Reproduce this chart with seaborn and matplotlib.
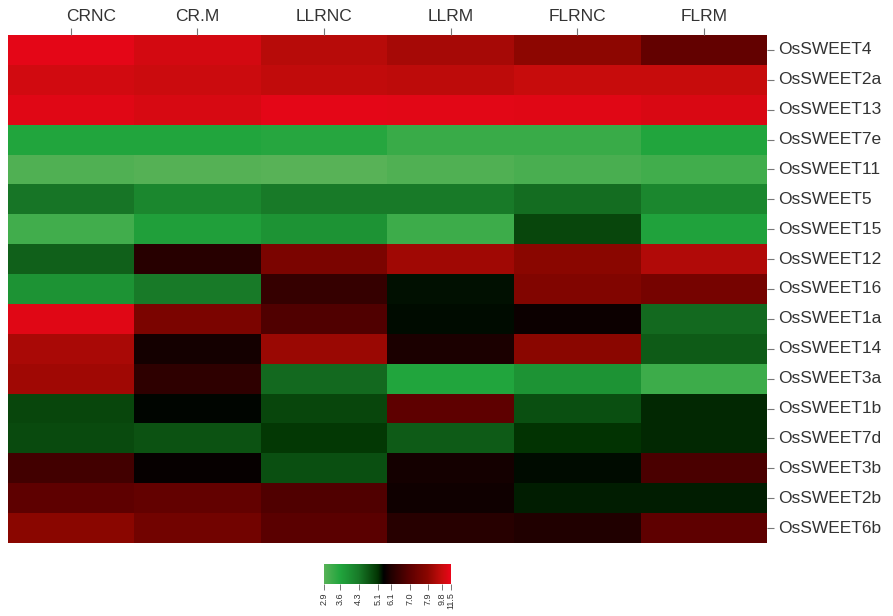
import numpy as np
import pandas as pd
import matplotlib
matplotlib.use("Agg")
import matplotlib.pyplot as plt
import matplotlib.transforms as mtransforms
from matplotlib.colors import LinearSegmentedColormap, FuncNorm
import seaborn as sns

samples = ["CRNC", "CR.M", "LLRNC", "LLRM", "FLRNC", "FLRM"]
genes = ["OsSWEET4", "OsSWEET2a", "OsSWEET13", "OsSWEET7e", "OsSWEET11",
         "OsSWEET5", "OsSWEET15", "OsSWEET12", "OsSWEET16", "OsSWEET1a",
         "OsSWEET14", "OsSWEET3a", "OsSWEET1b", "OsSWEET7d", "OsSWEET3b",
         "OsSWEET2b", "OsSWEET6b"]

# log2 expression per gene, one list per sample column
crnc = [11.2, 10.3, 11.0, 3.6, 3.0, 4.35, 3.2, 4.6, 3.9, 11.0, 8.9, 8.6, 4.9, 4.85, 6.6, 7.0, 7.9]
crm = [10.4, 10.0, 10.6, 3.6, 2.95, 4.1, 3.7, 6.2, 4.3, 7.6, 5.9, 6.3, 5.5, 4.75, 5.65, 7.1, 7.4]
llrnc = [9.3, 9.6, 11.2, 3.55, 2.9, 4.3, 3.9, 7.6, 6.4, 6.8, 8.4, 4.5, 4.9, 5.05, 4.8, 6.8, 6.95]
llrm = [8.8, 9.5, 11.1, 3.3, 3.0, 4.3, 3.25, 8.6, 5.4, 5.45, 6.0, 3.6, 7.0, 4.65, 5.9, 5.8, 6.2]
flrnc = [8.0, 9.8, 11.0, 3.3, 3.1, 4.45, 4.9, 7.9, 7.7, 5.75, 7.9, 3.9, 4.8, 5.1, 5.45, 5.3, 6.1]
flrm = [7.1, 9.8, 10.7, 3.6, 3.2, 4.1, 3.65, 9.1, 7.5, 4.5, 4.65, 3.25, 5.2, 5.2, 6.7, 5.3, 7.0]

bar_ticks = [2.9, 3.6, 4.3, 5.1, 6.1, 7.0, 7.9, 9.8, 11.5]
bar_labels = ["2.9", "3.6", "4.3", "5.1", "6.1", "7.0", "7.9", "9.8", "11.5"]

data = pd.DataFrame({"CRNC": crnc, "CR.M": crm, "LLRNC": llrnc,
                     "LLRM": llrm, "FLRNC": flrnc, "FLRM": flrm},
                    index=genes)[samples]

# piecewise scale: the colour key breaks are not evenly spaced in value
key_pos = [0.0, 0.126, 0.272, 0.424, 0.528, 0.68, 0.816, 0.928, 1.0]


def forward(v):
    return np.interp(v, bar_ticks, key_pos)


def inverse(p):
    return np.interp(p, key_pos, bar_ticks)


norm = FuncNorm((forward, inverse), vmin=bar_ticks[0], vmax=bar_ticks[-1])

cmap = LinearSegmentedColormap.from_list(
    "green_black_red",
    [(0.0, "#58b257"), (0.126, "#21a53d"), (0.272, "#187a28"),
     (0.424, "#023402"), (0.47, "#000000"), (0.528, "#200000"),
     (0.68, "#5e0000"), (0.816, "#8a0600"), (0.928, "#c60c0c"),
     (1.0, "#ea0519")], N=512)

fig = plt.figure(figsize=(8.93, 6.16), dpi=100)
ax = fig.add_axes([0.0084, 0.1185, 0.851, 0.8247])
cax = fig.add_axes([0.3628, 0.052, 0.1422, 0.0325])

sns.heatmap(data, ax=ax, cmap=cmap, norm=norm, cbar_ax=cax,
            cbar_kws={"orientation": "horizontal", "ticks": bar_ticks},
            linewidths=0)

text_color = "#333333"
tick_color = "#777777"

ax.xaxis.tick_top()
ax.yaxis.tick_right()
ax.set_xlabel("")
ax.set_ylabel("")
ax.set_xticklabels(samples, rotation=0, fontsize=12.5, color=text_color,
                   family="Liberation Sans")
ax.set_yticklabels(genes, rotation=0, fontsize=12.5, color=text_color,
                   family="Liberation Sans", va="center")
ax.tick_params(axis="x", top=True, bottom=False, length=5, width=0.8,
               color=tick_color, pad=3)
ax.tick_params(axis="y", right=True, left=False, length=5, width=0.8,
               color=tick_color, pad=3)

# nudge the first column label inward, away from the left edge
first = ax.get_xticklabels()[0]
first.set_transform(first.get_transform() +
                    mtransforms.ScaledTranslation(0.2, 0, fig.dpi_scale_trans))

cax.set_xticks(bar_ticks)
cax.set_xticklabels(bar_labels, rotation=90, fontsize=6.5, color=text_color,
                    family="Liberation Sans")
cax.xaxis.set_minor_locator(matplotlib.ticker.NullLocator())
cax.tick_params(axis="x", length=4, width=0.7, color=tick_color, pad=2)

fig.savefig("out.png", dpi=100)
